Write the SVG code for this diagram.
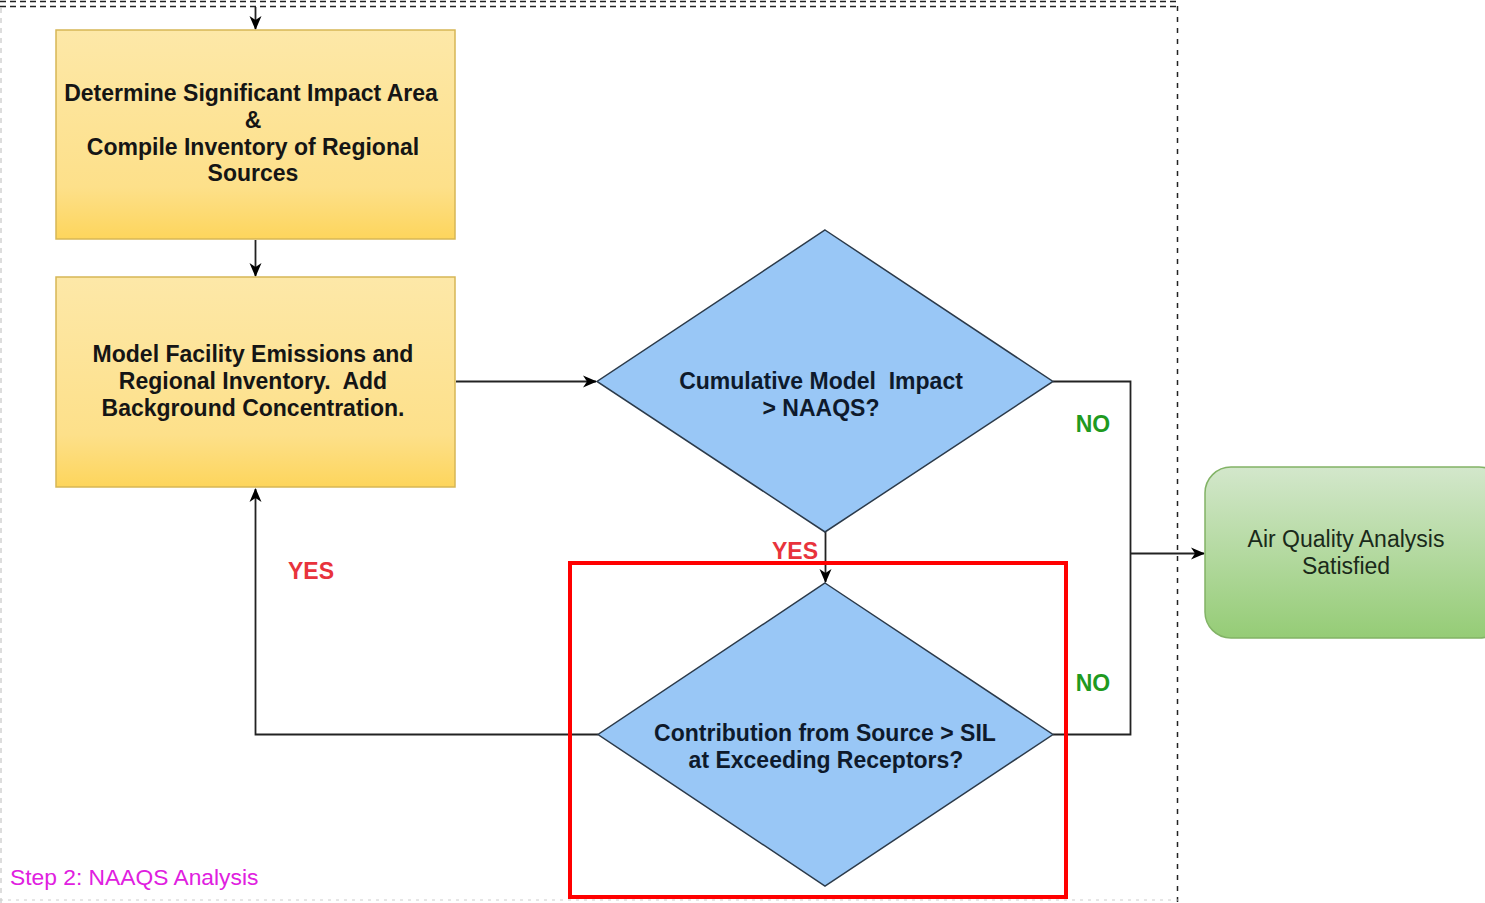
<svg xmlns="http://www.w3.org/2000/svg" width="1485" height="903" viewBox="0 0 1485 903">
<defs>
<linearGradient id="gy" x1="0" y1="0" x2="0" y2="1"><stop offset="0" stop-color="#fde8a8"/><stop offset="0.75" stop-color="#fde08a"/><stop offset="1" stop-color="#fdd55c"/></linearGradient>
<linearGradient id="gg" x1="0" y1="0" x2="0" y2="1"><stop offset="0" stop-color="#d3e7cb"/><stop offset="1" stop-color="#95cc76"/></linearGradient>
<marker id="ah" viewBox="0 0 14 14" refX="13" refY="7" markerWidth="14" markerHeight="14" markerUnits="userSpaceOnUse" orient="auto"><path d="M0,1 L14,7 L0,13 L4,7 Z" fill="#000"/></marker>
</defs>
<style>
.box{fill:url(#gy);stroke:#d6b656;stroke-width:1.5}
.dia{fill:#99c7f6;stroke:#2b3a4a;stroke-width:1.5}
.t{font-family:"Liberation Sans",Arial,sans-serif;font-size:23px;font-weight:bold;text-anchor:middle;fill:#151515}
.td{font-family:"Liberation Sans",Arial,sans-serif;font-size:23px;font-weight:bold;text-anchor:middle;fill:#0e1a2c}
.tg{font-family:"Liberation Sans",Arial,sans-serif;font-size:23px;text-anchor:middle;fill:#1a2a1a}
.no{font-family:"Liberation Sans",Arial,sans-serif;font-size:23px;font-weight:bold;fill:#1f9a1f;text-anchor:middle}
.yes{font-family:"Liberation Sans",Arial,sans-serif;font-size:23px;font-weight:bold;fill:#e8333c;text-anchor:middle}
.c{fill:none;stroke:#222;stroke-width:1.8}
</style>
<rect width="1485" height="903" fill="#fff"/>
<g id="frame" fill="none">
<line x1="0" y1="1.5" x2="1178" y2="1.5" stroke="#222" stroke-width="1.5" stroke-dasharray="6,4"/>
<line x1="0" y1="6.5" x2="1178" y2="6.5" stroke="#222" stroke-width="1.5" stroke-dasharray="6,4"/>
<line x1="1177.5" y1="6" x2="1177.5" y2="903" stroke="#222" stroke-width="1.5" stroke-dasharray="5,6"/>
<line x1="1" y1="8" x2="1" y2="903" stroke="#bbb" stroke-width="1" stroke-dasharray="5,5"/>
<line x1="0" y1="900" x2="1178" y2="900" stroke="#ccc" stroke-width="1" stroke-dasharray="3,5"/>
</g>
<g id="connectors">
<line class="c" x1="255.5" y1="7" x2="255.5" y2="29" marker-end="url(#ah)"/>
<line class="c" x1="255.5" y1="240" x2="255.5" y2="276" marker-end="url(#ah)"/>
<line class="c" x1="456" y1="381.5" x2="596" y2="381.5" marker-end="url(#ah)"/>
<line class="c" x1="825.5" y1="532" x2="825.5" y2="582" marker-end="url(#ah)"/>
<polyline class="c" points="1053,381.5 1130.5,381.5 1130.5,734.5 1053,734.5"/>
<line class="c" x1="1130.5" y1="553.5" x2="1204" y2="553.5" marker-end="url(#ah)"/>
<polyline class="c" points="598,734.5 255.5,734.5 255.5,489" marker-end="url(#ah)"/>
</g>
<g id="n1">
<rect class="box" x="56" y="30" width="399" height="209"/>
<text class="t" x="251" y="101">Determine Significant Impact Area</text>
<text class="t" x="253" y="128">&amp;</text>
<text class="t" x="253" y="155">Compile Inventory of Regional</text>
<text class="t" x="253" y="181">Sources</text>
</g>
<g id="n2">
<rect class="box" x="56" y="277" width="399" height="210"/>
<text class="t" x="253" y="362">Model Facility Emissions and</text>
<text class="t" x="253" y="389" xml:space="preserve">Regional Inventory.  Add</text>
<text class="t" x="253" y="416">Background Concentration.</text>
</g>
<g id="d1">
<polygon class="dia" points="825,230 1053,381.5 825,532 597,381.5"/>
<text class="td" x="821" y="389" xml:space="preserve">Cumulative Model  Impact</text>
<text class="td" x="821" y="416">&gt; NAAQS?</text>
</g>
<g id="d2">
<polygon class="dia" points="825,583 1053,734.5 825,886 598,734.5"/>
<text class="td" x="825" y="741">Contribution from Source &gt; SIL</text>
<text class="td" x="826" y="768">at Exceeding Receptors?</text>
</g>
<g id="n3">
<rect x="1205" y="467" width="300" height="171" rx="26" fill="url(#gg)" stroke="#82b366" stroke-width="1.5"/>
<text class="tg" x="1346" y="547">Air Quality Analysis</text>
<text class="tg" x="1346" y="574">Satisfied</text>
</g>
<g id="labels">
<text class="no" x="1093" y="432">NO</text>
<text class="no" x="1093" y="691">NO</text>
<text class="yes" x="795" y="559">YES</text>
<text class="yes" x="311" y="579">YES</text>
<text x="10" y="885" font-family="&quot;Liberation Sans&quot;,Arial,sans-serif" font-size="22.8" fill="#e020e0">Step 2: NAAQS Analysis</text>
</g>
<rect id="highlight" x="570" y="563" width="496" height="334" fill="none" stroke="#ff0000" stroke-width="4"/>
</svg>
